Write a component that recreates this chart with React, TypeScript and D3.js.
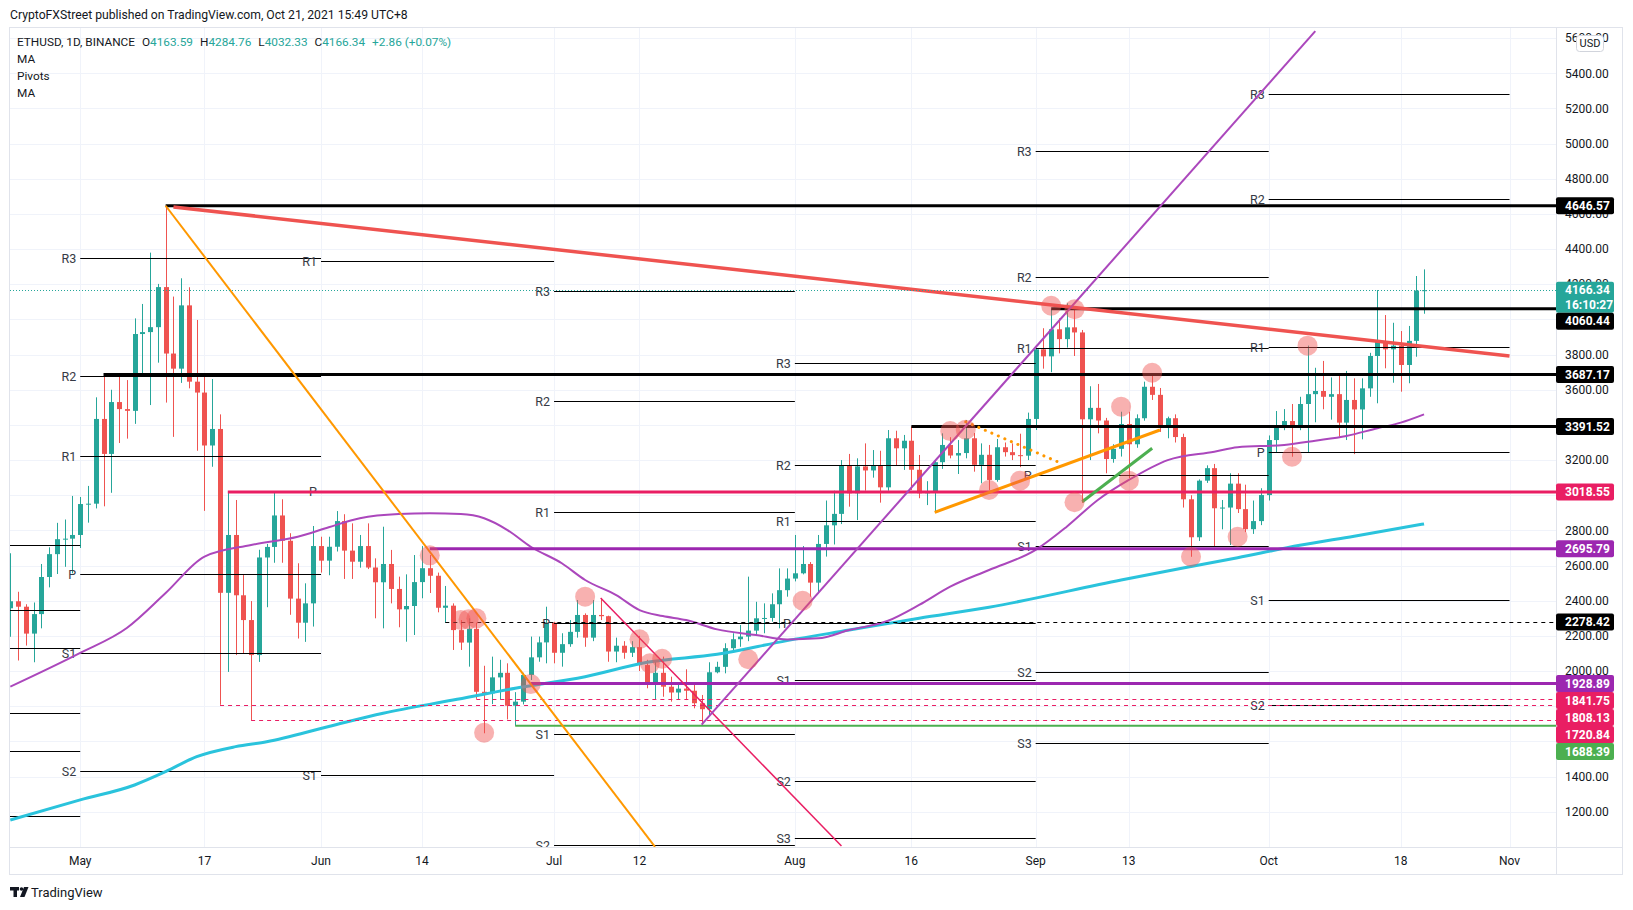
import React, { useRef, useEffect } from 'react';
import * as d3 from 'd3';

const FONT = 'Roboto, "Noto Sans", Arial, sans-serif';
const GREEN = '#26a69a';
const RED = '#ef5350';

// ETHUSD daily candles [open, high, low, close]
const aprBars = [
  [2357, 2670, 2195, 2397], [2397, 2451, 2060, 2366], [2366, 2380, 2145, 2213],
  [2213, 2390, 2050, 2324], [2324, 2609, 2243, 2535], [2535, 2704, 2476, 2665],
  [2665, 2843, 2552, 2750], [2750, 2862, 2593, 2753], [2753, 2996, 2556, 2774],
];
const mayBars = [
  [2774, 2990, 2700, 2950], [2950, 3053, 2844, 2952], [2952, 3557, 2925, 3434],
  [3434, 3694, 2937, 3235], [3235, 3600, 3014, 3530], [3530, 3690, 3297, 3490],
  [3490, 3655, 3322, 3480], [3480, 4006, 3406, 3917], [3917, 4088, 3674, 3928],
  [3928, 4380, 3513, 3956], [3956, 4202, 3754, 4184], [4184, 4646.57, 3527, 3806],
  [3806, 4130, 3332, 3720], [3720, 4234, 3639, 4080], [4080, 4183, 3608, 3646],
  [3646, 3997, 3253, 3584], [3584, 3674, 2911, 3283], [3283, 3661, 3162, 3377],
  [3377, 3460, 1808.13, 2445], [2445, 3018.55, 1995, 2774], [2774, 2973, 2091, 2431],
  [2431, 2546, 2101, 2290], [2290, 2398, 1720.84, 2091], [2091, 2690, 2052, 2646],
  [2646, 2723, 2363, 2706], [2706, 3018, 2616, 2885], [2885, 2977, 2616, 2741],
  [2741, 2784, 2320, 2412], [2412, 2613, 2185, 2275], [2275, 2499, 2166, 2385],
  [2385, 2825, 2253, 2711],
];
const junBars = [
  [2711, 2764, 2560, 2628], [2628, 2764, 2545, 2707], [2707, 2910, 2680, 2853],
  [2853, 2892, 2524, 2685], [2685, 2840, 2524, 2622], [2622, 2774, 2588, 2711],
  [2711, 2840, 2580, 2589], [2589, 2641, 2300, 2505], [2505, 2821, 2243, 2609],
  [2609, 2689, 2385, 2467], [2467, 2537, 2249, 2351], [2351, 2550, 2167, 2370],
  [2370, 2660, 2205, 2506], [2506, 2711, 2414, 2585], [2585, 2660, 2444, 2542],
  [2542, 2560, 2334, 2360], [2360, 2484, 2275, 2372], [2372, 2385, 2120, 2233],
  [2233, 2290, 2120, 2162], [2162, 2300, 2025, 2240], [2240, 2275, 1841.75, 1882],
  [1882, 2030, 1646, 1873], [1873, 2082, 1812, 1964], [1964, 2064, 1837, 1990],
  [1990, 2044, 1725, 1803], [1803, 1880, 1688.39, 1826], [1826, 1990, 1810, 1978],
  [1978, 2196, 1949, 2078], [2078, 2196, 2053, 2163], [2163, 2366, 2044, 2275],
];
const julBars = [
  [2275, 2280, 2044, 2104], [2104, 2215, 2025, 2153], [2153, 2290, 2138, 2223],
  [2223, 2404, 2190, 2319], [2319, 2328, 2138, 2190], [2190, 2404, 2170, 2319],
  [2319, 2415, 2290, 2312], [2312, 2315, 2053, 2111], [2111, 2190, 2050, 2144],
  [2144, 2170, 2070, 2104], [2104, 2170, 2080, 2136], [2136, 2200, 2000, 2034],
  [2034, 2064, 1902, 1930], [1930, 2053, 1840, 1990], [1990, 2082, 1854, 1911],
  [1911, 1968, 1826, 1878], [1878, 1926, 1837, 1900], [1900, 2010, 1835, 1888],
  [1888, 1921, 1788, 1817], [1817, 1864, 1695, 1783], [1783, 2050, 1750, 1993],
  [1993, 2053, 1987, 2024], [2024, 2158, 1987, 2130], [2130, 2215, 2107, 2181],
  [2181, 2262, 2138, 2196], [2196, 2537, 2170, 2230], [2230, 2394, 2205, 2300],
  [2300, 2385, 2215, 2302], [2302, 2442, 2281, 2380], [2380, 2584, 2243, 2460],
  [2460, 2584, 2423, 2526],
];
const augBars = [
  [2526, 2774, 2510, 2556], [2556, 2711, 2550, 2609], [2609, 2620, 2423, 2503],
  [2503, 2774, 2442, 2723], [2723, 2970, 2651, 2829], [2829, 3026, 2720, 2894],
  [2894, 3200, 2836, 3168], [3168, 3235, 2935, 3011], [3011, 3210, 2859, 3164],
  [3164, 3295, 3026, 3141], [3141, 3257, 3100, 3168], [3168, 3253, 2958, 3045],
  [3045, 3371, 3026, 3324], [3324, 3367, 3172, 3267], [3267, 3343, 3144, 3310],
  [3310, 3391.52, 3030, 3145], [3145, 3229, 2983, 3011], [3011, 3080, 2944, 3020],
  [3020, 3200, 2903, 3188], [3188, 3352, 3150, 3286], [3286, 3330, 3210, 3226],
  [3226, 3314, 3121, 3240], [3240, 3428, 3210, 3324], [3324, 3354, 3134, 3173],
  [3173, 3295, 3068, 3230], [3230, 3286, 3030, 3087], [3087, 3320, 3077, 3273],
  [3273, 3300, 3220, 3245], [3245, 3295, 3200, 3228], [3228, 3350, 3160, 3225],
  [3225, 3470, 3200, 3434],
];
const sepBars = [
  [3434, 3840, 3371, 3830], [3830, 3950, 3720, 3790], [3790, 4060.44, 3700, 3944],
  [3944, 4006, 3807, 3888], [3888, 4092, 3840, 3955], [3955, 4054, 3792, 3926],
  [3926, 3940, 2957, 3432], [3432, 3620, 3200, 3497], [3497, 3633, 3352, 3425],
  [3425, 3440, 3125, 3206], [3206, 3290, 3185, 3264], [3264, 3475, 3220, 3405],
  [3405, 3475, 3096, 3290], [3290, 3460, 3270, 3438], [3438, 3646, 3424, 3617],
  [3617, 3694, 3542, 3571], [3571, 3610, 3360, 3398], [3398, 3447, 3324, 3438],
  [3438, 3460, 3300, 3331], [3331, 3350, 2930, 2977], [2977, 3000, 2650, 2761],
  [2761, 3090, 2740, 3083], [3083, 3170, 3070, 3154], [3154, 3178, 2707, 2926],
  [2926, 2973, 2806, 2930], [2930, 3125, 2717, 3066], [3066, 3125, 2899, 2921],
  [2921, 3060, 2790, 2807], [2807, 2970, 2780, 2853], [2853, 3040, 2830, 3001],
];
const octBars = [
  [3001, 3340, 2970, 3314], [3314, 3479, 3244, 3386], [3386, 3490, 3370, 3422],
  [3422, 3519, 3219, 3386], [3386, 3560, 3370, 3519], [3519, 3851, 3242, 3575],
  [3575, 3725, 3415, 3593], [3593, 3764, 3489, 3560], [3560, 3670, 3430, 3575],
  [3575, 3684, 3333, 3413], [3413, 3707, 3314, 3542], [3542, 3665, 3234, 3488],
  [3488, 3665, 3318, 3608], [3608, 3810, 3560, 3792], [3792, 4167, 3523, 3874],
  [3874, 4025, 3722, 3830], [3830, 3981, 3640, 3851], [3851, 3934, 3589, 3741],
  [3741, 3963, 3637, 3878], [3878, 4247, 3788, 4164], [4163.59, 4284.76, 4032.33, 4166.34],
];
const firstDay = '2021-04-22';

const maPurple = [
  ['2021-04-22', 1911], ['2021-05-01', 2103], ['2021-05-07', 2245], ['2021-05-12', 2444],
  ['2021-05-17', 2651], ['2021-05-23', 2717], ['2021-05-29', 2764], ['2021-06-02', 2818],
  ['2021-06-06', 2869], ['2021-06-11', 2893], ['2021-06-15', 2897], ['2021-06-19', 2893],
  ['2021-06-22', 2869], ['2021-06-25', 2802], ['2021-06-28', 2707], ['2021-07-02', 2613],
  ['2021-07-05', 2518], ['2021-07-09', 2432], ['2021-07-12', 2347], ['2021-07-15', 2313],
  ['2021-07-18', 2290], ['2021-07-22', 2237], ['2021-07-27', 2205], ['2021-07-31', 2180],
  ['2021-08-04', 2186], ['2021-08-08', 2233], ['2021-08-13', 2286], ['2021-08-17', 2376],
  ['2021-08-21', 2480], ['2021-08-26', 2575], ['2021-09-01', 2689], ['2021-09-05', 2821],
  ['2021-09-09', 2973], ['2021-09-13', 3087], ['2021-09-18', 3200], ['2021-09-24', 3248],
  ['2021-09-27', 3273], ['2021-10-03', 3286], ['2021-10-07', 3310], ['2021-10-11', 3337],
  ['2021-10-15', 3381], ['2021-10-18', 3413], ['2021-10-21', 3460],
];
const maCyan = [
  ['2021-04-22', 1153], ['2021-05-01', 1267], ['2021-05-08', 1352], ['2021-05-12', 1428],
  ['2021-05-16', 1513], ['2021-05-21', 1570], ['2021-05-25', 1598], ['2021-06-02', 1685],
  ['2021-06-09', 1760], ['2021-06-18', 1835], ['2021-06-26', 1902], ['2021-07-05', 1968],
  ['2021-07-13', 2050], ['2021-07-22', 2095], ['2021-07-31', 2173], ['2021-08-08', 2233],
  ['2021-08-17', 2300], ['2021-08-26', 2363], ['2021-09-12', 2518], ['2021-09-27', 2645],
  ['2021-10-05', 2715], ['2021-10-12', 2767], ['2021-10-21', 2837],
];

// monthly pivot levels (null = not drawn)
const pivotMonths = ['2021-04-01', '2021-05-01', '2021-06-01', '2021-07-01', '2021-08-01', '2021-09-01', '2021-10-01', '2021-11-01'];
const pivotNames = ['R3', 'R2', 'R1', 'P', 'S1', 'S2', 'S3'];
const pivotR3 = [null, 4348, 7257, 4164, 3755, 4958, 5284];
const pivotR2 = [2715, 3676, 5952, 3536, 3170, 4241, 4685];
const pivotR1 = [2346, 3223, 4331, 2902, 2852, 3838, 3842];
const pivotP = [2129, 2554, 3026, 2275, 2274, 3115, 3245];
const pivotS1 = [1760, 2104, 1406, 1640, 1949, 2713, 2402];
const pivotS2 = [1544, 1430, 100, 1012, 1372, 1996, 1806];
const pivotS3 = [1174, 980, -1520, 378, 1048, 1593, 962];

// horizontal levels drawn by the author
const levelPrices = [4646.57, 4060.44, 3687.17, 3391.52, 3018.55, 2695.79, 2278.42, 1928.89, 1841.75, 1808.13, 1720.84, 1688.39];
const levelStarts = ['2021-05-12', '2021-09-03', '2021-05-04', '2021-08-16', '2021-05-20', '2021-06-15', '2021-06-17', '2021-06-28', '2021-06-21', '2021-05-19', '2021-05-23', '2021-06-26'];

// trend lines: [start date, start price, end date, end price]
const trendLines = [
  ['2021-05-13', 4640, '2021-11-01', 3792],
  ['2021-05-12', 4646.57, '2021-07-14', 1000],
  ['2021-07-07', 2415, '2021-08-07', 1005],
  ['2021-07-20', 1695, '2021-10-07', 5640],
  ['2021-08-19', 2903, '2021-09-17', 3371],
  ['2021-08-23', 3418, '2021-09-04', 3187],
  ['2021-09-07', 2963, '2021-09-16', 3267],
];

// highlighted touch points
const touchDates = ['2021-06-15', '2021-06-19', '2021-06-20', '2021-06-21', '2021-06-22', '2021-06-28', '2021-07-05',
  '2021-07-12', '2021-07-13T08:00Z', '2021-07-14T22:00Z', '2021-07-26', '2021-08-02', '2021-08-21', '2021-08-23',
  '2021-08-26', '2021-08-30', '2021-09-03', '2021-09-06', '2021-09-06', '2021-09-12', '2021-09-13', '2021-09-16',
  '2021-09-21', '2021-09-27', '2021-10-04', '2021-10-06'];
const touchPrices = [2658, 2290, 2294, 2300, 1649, 1926, 2423, 2181, 2044, 2070, 2067, 2400, 3365, 3373,
  3030, 3083, 4078, 4058, 2960, 3504, 3083, 3697, 2650, 2764, 3219, 3851];

const xTickDates = ['2021-05-01', '2021-05-17', '2021-06-01', '2021-06-14', '2021-07-01', '2021-07-12', '2021-08-01',
  '2021-08-16', '2021-09-01', '2021-09-13', '2021-10-01', '2021-10-18', '2021-11-01'];
const xTickLabels = ['May', '17', 'Jun', '14', 'Jul', '12', 'Aug', '16', 'Sep', '13', 'Oct', '18', 'Nov'];

const lastPrice = 4166.34;

const App = () => {
  const svgRef = useRef(null);

  useEffect(() => {
    const width = 1633;
    const height = 910;
    const left = 10, right = 1556, top = 28, bottom = 847;

    const svg = d3.select(svgRef.current)
      .attr('width', width)
      .attr('height', height)
      .style('font-family', FONT);
    svg.selectAll('*').remove();

    const d = (s: string) => new Date(s.length > 10 ? s : s + 'T00:00Z');
    const x = d3.scaleUtc().domain([d(firstDay), d('2021-11-01')]).range([10.3, 1509.5]);
    const y = d3.scaleLinear().domain([1200, 5400]).range([811.7, 73.3]);

    const bars = [...aprBars, ...mayBars, ...junBars, ...julBars, ...augBars, ...sepBars, ...octBars]
      .map((b, i) => ({ date: d3.utcDay.offset(d(firstDay), i), o: b[0], h: b[1], l: b[2], c: b[3] }));

    svg.append('rect').attr('width', width).attr('height', height).attr('fill', '#fff');

    svg.append('defs').append('clipPath').attr('id', 'plot')
      .append('rect').attr('x', left).attr('y', top).attr('width', right - left).attr('height', bottom - top);

    // header
    svg.append('text').attr('x', 10).attr('y', 15).attr('dy', '0.35em')
      .style('font-size', '12.2px').style('fill', '#131722')
      .text('CryptoFXStreet published on TradingView.com, Oct 21, 2021 15:49 UTC+8');

    const plot = svg.append('g').attr('clip-path', 'url(#plot)');

    // grid
    const priceTicks = d3.range(1000, 5801, 200);
    plot.selectAll('.hg').data(priceTicks).enter().append('line')
      .attr('x1', left).attr('x2', right)
      .attr('y1', v => Math.round(y(v)) + 0.5).attr('y2', v => Math.round(y(v)) + 0.5)
      .style('stroke', '#f0f3fa');
    plot.selectAll('.vg').data(xTickDates).enter().append('line')
      .attr('x1', s => Math.round(x(d(s))) + 0.5).attr('x2', s => Math.round(x(d(s))) + 0.5)
      .attr('y1', top).attr('y2', bottom)
      .style('stroke', '#f0f3fa');

    // candles
    const candles = plot.selectAll('.bar').data(bars).enter().append('g');
    candles.append('line')
      .attr('x1', b => Math.round(x(b.date)) + 0.5).attr('x2', b => Math.round(x(b.date)) + 0.5)
      .attr('y1', b => y(b.h)).attr('y2', b => y(b.l))
      .style('stroke', b => (b.c >= b.o ? GREEN : RED)).style('stroke-width', 1);
    candles.append('rect')
      .attr('x', b => Math.round(x(b.date)) - 2)
      .attr('width', 5)
      .attr('y', b => y(Math.max(b.o, b.c)))
      .attr('height', b => Math.max(1, Math.abs(y(b.o) - y(b.c))))
      .style('fill', b => (b.c >= b.o ? GREEN : RED));

    // pivots (only the levels that fall inside the pane)
    const pivotRows = [pivotR3, pivotR2, pivotR1, pivotP, pivotS1, pivotS2, pivotS3];
    pivotRows.forEach((row, r) => {
      row.forEach((v, m) => {
        if (v == null) return;
        const yy = Math.round(y(v)) + 0.5;
        if (yy < top || yy > bottom) return;
        const x1 = x(d(pivotMonths[m]));
        const x2 = x(d(pivotMonths[m + 1]));
        plot.append('line').attr('x1', x1).attr('x2', x2).attr('y1', yy).attr('y2', yy)
          .style('stroke', '#000').style('stroke-width', 1.2);
        if (x1 - 20 < left) return;
        plot.append('text').attr('x', x1 - 4).attr('y', yy).attr('dy', '0.36em')
          .attr('text-anchor', 'end').style('font-size', '12.5px').style('fill', '#363a45')
          .text(pivotNames[r]);
      });
    });

    // moving averages
    const maLine = d3.line<any>().x(p => x(d(p[0]))).y(p => y(p[1])).curve(d3.curveMonotoneX);
    plot.append('path').attr('d', maLine(maCyan)).style('fill', 'none')
      .style('stroke', '#2ac3dc').style('stroke-width', 3);
    plot.append('path').attr('d', maLine(maPurple)).style('fill', 'none')
      .style('stroke', '#ab47bc').style('stroke-width', 2);

    // horizontal levels
    const levelColor = ['#000', '#000', '#000', '#000', '#e91e63', '#9c27b0', '#000', '#9c27b0', '#e91e63', '#e91e63', '#e91e63', '#4caf50'];
    const levelWidth = [3, 3, 3, 3, 3, 3, 1, 3, 1, 1, 1, 2];
    const levelDash = [null, null, null, null, null, null, '4 4', null, '4 4', '4 4', '4 4', null];
    levelPrices.forEach((v, i) => {
      const yy = levelWidth[i] === 1 ? Math.round(y(v)) + 0.5 : y(v);
      plot.append('line').attr('x1', x(d(levelStarts[i]))).attr('x2', right)
        .attr('y1', yy).attr('y2', yy)
        .style('stroke', levelColor[i]).style('stroke-width', levelWidth[i])
        .style('stroke-dasharray', levelDash[i]);
    });

    // trend lines
    const trendColor = ['#ef5350', '#ff9800', '#e91e63', '#ab47bc', '#ff9800', '#ff9800', '#4caf50'];
    const trendWidth = [3.5, 2, 1.5, 2, 3, 3, 3];
    const trendDash = [null, null, null, null, null, '0.1 7', null];
    trendLines.forEach((t, i) => {
      plot.append('line')
        .attr('x1', x(d(t[0] as string))).attr('y1', y(t[1] as number))
        .attr('x2', x(d(t[2] as string))).attr('y2', y(t[3] as number))
        .style('stroke', trendColor[i]).style('stroke-width', trendWidth[i])
        .style('stroke-dasharray', trendDash[i])
        .style('stroke-linecap', trendDash[i] ? 'round' : 'butt');
    });

    // touch circles
    plot.selectAll('.touch').data(touchDates).enter().append('circle')
      .attr('cx', (s) => x(d(s))).attr('cy', (s, i) => y(touchPrices[i]))
      .attr('r', 10).style('fill', '#ef5350').style('opacity', 0.45);

    // last price line
    plot.append('line').attr('x1', left).attr('x2', right)
      .attr('y1', Math.round(y(lastPrice)) + 0.5).attr('y2', Math.round(y(lastPrice)) + 0.5)
      .style('stroke', GREEN).style('stroke-dasharray', '1 2');

    // legend
    const legend = svg.append('text').attr('x', 17).attr('y', 42).attr('dy', '0.35em')
      .style('font-size', '11.8px').style('fill', '#131722');
    legend.append('tspan').text('ETHUSD, 1D, BINANCE');
    const ohlc = [['O', '4163.59'], ['H', '4284.76'], ['L', '4032.33'], ['C', '4166.34']];
    ohlc.forEach(([k, v]) => {
      legend.append('tspan').attr('dx', 7).text(k);
      legend.append('tspan').style('fill', GREEN).text(v);
    });
    legend.append('tspan').attr('dx', 7).style('fill', GREEN).text('+2.86 (+0.07%)');
    ['MA', 'Pivots', 'MA'].forEach((s, i) => {
      svg.append('text').attr('x', 17).attr('y', 59 + i * 17).attr('dy', '0.35em')
        .style('font-size', '11.8px').style('fill', '#131722').text(s);
    });

    // frame
    svg.append('rect').attr('x', 9.5).attr('y', 27.5).attr('width', 1613).attr('height', 847)
      .style('fill', 'none').style('stroke', '#e0e3eb');
    svg.append('line').attr('x1', right + 0.5).attr('x2', right + 0.5).attr('y1', 27.5).attr('y2', 874.5)
      .style('stroke', '#e0e3eb');
    svg.append('line').attr('x1', 9.5).attr('x2', 1622.5).attr('y1', bottom + 0.5).attr('y2', bottom + 0.5)
      .style('stroke', '#e0e3eb');

    // x axis labels
    svg.selectAll('.xl').data(xTickDates).enter().append('text')
      .attr('x', s => x(d(s))).attr('y', 861).attr('dy', '0.35em').attr('text-anchor', 'middle')
      .style('font-size', '12px').style('fill', '#131722')
      .text((s, i) => xTickLabels[i]);

    // price labels for levels and last price, stacked so they do not overlap
    const boxes = levelPrices.map((v, i) => ({ price: v, color: levelColor[i], h: 17, last: false, top: 0 }));
    boxes.push({ price: lastPrice, color: GREEN, h: 31, last: true, top: 0 });
    boxes.sort((a, b) => b.price - a.price);
    let prevBottom = -Infinity;
    boxes.forEach(b => {
      let t = y(b.price) - 8.5;
      if (t < prevBottom) t = prevBottom;
      b.top = t;
      prevBottom = t + b.h;
    });
    const covered = (py: number) => boxes.some(b => py >= b.top && py <= b.top + b.h);

    // price axis labels (the ones fully hidden behind a price label are left out)
    const axisTicks = d3.range(1200, 5601, 200).filter(v => !(covered(y(v) - 4) && covered(y(v) + 4)));
    svg.selectAll('.yl').data(axisTicks).enter().append('text')
      .attr('x', 1565).attr('y', v => y(v)).attr('dy', '0.35em')
      .style('font-size', '12px').style('fill', '#131722')
      .text(v => d3.format('.2f')(v));

    boxes.forEach(b => {
      svg.append('rect').attr('x', 1556).attr('y', b.top).attr('width', 58).attr('height', b.h)
        .attr('rx', 2).style('fill', b.color);
      svg.append('text').attr('x', 1565).attr('y', b.top + 8.5).attr('dy', '0.35em')
        .style('font-size', '12px').style('font-weight', 'bold').style('fill', '#fff')
        .text(d3.format('.2f')(b.price));
      if (b.last) {
        svg.append('text').attr('x', 1565).attr('y', b.top + 23).attr('dy', '0.35em')
          .style('font-size', '12px').style('font-weight', 'bold').style('fill', '#fff')
          .text('16:10:27');
      }
    });

    // currency tag
    svg.append('rect').attr('x', 1576.5).attr('y', 35.5).attr('width', 27).attr('height', 16).attr('rx', 3)
      .style('fill', '#fff').style('stroke', '#d1d4dc');
    svg.append('text').attr('x', 1590).attr('y', 43.5).attr('dy', '0.35em').attr('text-anchor', 'middle')
      .style('font-size', '11px').style('fill', '#131722').text('USD');

    // footer logo
    const logo = svg.append('g').style('fill', '#131722');
    logo.append('rect').attr('x', 10).attr('y', 887).attr('width', 9).attr('height', 3.5);
    logo.append('rect').attr('x', 13.5).attr('y', 887).attr('width', 3.5).attr('height', 10);
    logo.append('circle').attr('cx', 21.5).attr('cy', 889).attr('r', 1.8);
    logo.append('path').attr('d', 'M24,887 L28.5,887 L24.5,897 L20,897 Z');
    svg.append('text').attr('x', 31).attr('y', 892).attr('dy', '0.35em')
      .style('font-size', '13px').style('fill', '#131722').text('TradingView');
  }, []);

  return <svg ref={svgRef} style={{ position: 'absolute', left: 0, top: 0 }}></svg>;
};

export default App;
